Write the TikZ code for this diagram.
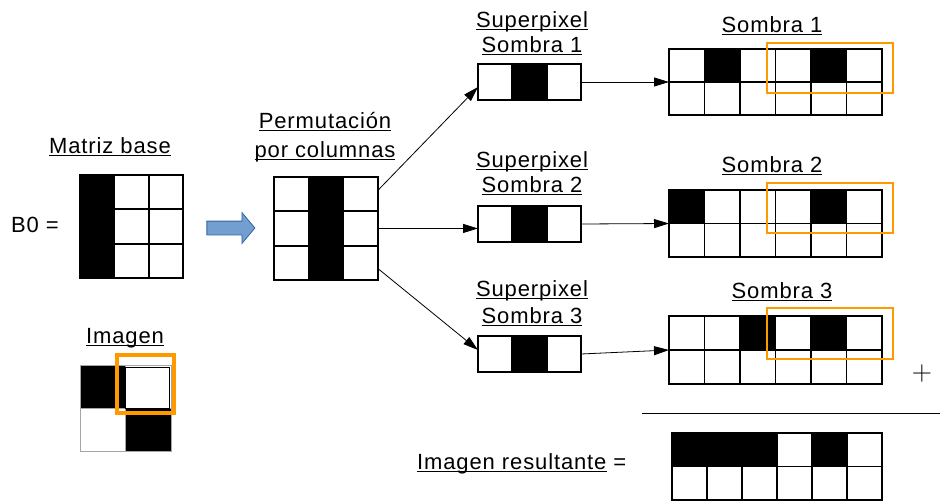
\documentclass[tikz,border=0pt]{standalone}
\usepackage{fontspec}
\setmainfont{Liberation Sans}[LetterSpace=4]
\usetikzlibrary{arrows.meta,shapes.arrows}

\definecolor{hlorange}{HTML}{FF9900}
\definecolor{arrowfill}{HTML}{729FCF}
\definecolor{arrowline}{HTML}{3465A4}
\colorlet{on}{black}
\colorlet{off}{white}

% underline at a fixed depth below the baseline
\newcommand\undl[1]{\leavevmode\setbox0\hbox{#1}\rlap{\rule[-2.5pt]{\wd0}{1pt}}\box0\relax}

% grid of pixels: name, north west corner, cell w, cell h, columns, rows, pattern
\newcommand\pixgrid[7]{%
  \node[frame, anchor=north west, minimum width=#5*#3, minimum height=#6*#4] (#1) at (#2) {};
  \begin{scope}[shift={(#1.north west)}]
    \foreach \row [count=\j] in {#7} {
      \foreach \c [count=\i] in \row {
        \path[pix, fill=\c] ({(\i-1)*#3},{(\j-1)*#4}) rectangle ++(#3,#4);
      }
    }
  \end{scope}
}

\tikzset{
  frame/.style={inner sep=0pt, outer sep=0pt},
  pix/.style={draw=black, line width=1.8pt},
  lbl/.style={inner sep=0pt, font=\fontsize{22}{26}\selectfont},
  conn/.style={line width=0.8pt, -{Triangle[length=15pt,width=9pt]}},
  hl/.style={draw=hlorange, line width=1.6pt},
  bluearrow/.style={single arrow, draw=arrowline, fill=arrowfill, line width=0.8pt,
    minimum height=48pt, single arrow head extend=8.5pt,
    single arrow tip angle=100, inner sep=0pt}
}

\begin{document}
\begin{tikzpicture}[x=1pt, y=-1pt]
  \useasboundingbox (0,0) rectangle (941,501);

  % base matrix and image
  \node[lbl, anchor=base] (lblbase) at (110,153) {\undl{Matriz base}};
  \node[lbl, anchor=base west] (bzero) at (11,232) {B0 =};
  \pixgrid{base}{80,175}{34.3}{34.3}{3}{3}{{on,off,off},{on,off,off},{on,off,off}}

  \node[lbl, anchor=base] (lblimg) at (125,343) {\undl{Imagen}};
  \begin{scope}[pix/.append style={draw=black!35, line width=1pt}]
    \pixgrid{img}{80,365}{45.5}{43}{2}{2}{{on,off},{off,on}}
  \end{scope}
  \draw[line width=1.6pt] (125.5,367.5) rectangle (169.5,408.5);
  \draw[hl, line width=4.5pt] (117,355) rectangle (174,413);

  % column permutation
  \node[bluearrow] (permarrow) at (228,228) {\rule{0pt}{13pt}};
  \node[lbl, anchor=base] (lblperm) at (325,128) {\undl{Permutación}};
  \node[lbl, anchor=base] (lblcols) at (325,157) {\undl{por columnas}};
  \pixgrid{perm}{274,177}{34.6}{34.3}{3}{3}{{off,on,off},{off,on,off},{off,on,off}}

  % superpixels
  \node[lbl, anchor=base] (lblsp1a) at (532,27) {\undl{Superpixel}};
  \node[lbl, anchor=base] (lblsp1b) at (532,52) {\undl{Sombra 1}};
  \pixgrid{sp1}{478,64}{34.3}{36}{3}{1}{{off,on,off}}

  \node[lbl, anchor=base] (lblsp2a) at (532,167) {\undl{Superpixel}};
  \node[lbl, anchor=base] (lblsp2b) at (532,192) {\undl{Sombra 2}};
  \pixgrid{sp2}{478,206}{34.3}{36}{3}{1}{{off,on,off}}

  \node[lbl, anchor=base] (lblsp3a) at (532,296) {\undl{Superpixel}};
  \node[lbl, anchor=base] (lblsp3b) at (532,323) {\undl{Sombra 3}};
  \pixgrid{sp3}{478,336}{34.3}{36}{3}{1}{{off,on,off}}

  % shadows
  \node[lbl, anchor=base] (lblsh1) at (772,32) {\undl{Sombra 1}};
  \pixgrid{sh1}{669,49}{35.5}{33}{6}{2}{{off,on,off,off,on,off},{off,off,off,off,off,off}}
  \draw[hl] (767,43) rectangle (893,93);

  \node[lbl, anchor=base] (lblsh2) at (772,172) {\undl{Sombra 2}};
  \pixgrid{sh2}{669,190}{35.5}{33.5}{6}{2}{{on,off,off,off,on,off},{off,off,off,off,off,off}}
  \draw[hl] (767,183) rectangle (893,233);

  \node[lbl, anchor=base] (lblsh3) at (782,298) {\undl{Sombra 3}};
  \pixgrid{sh3}{669,316}{35.5}{34}{6}{2}{{off,off,on,off,on,off},{off,off,off,off,off,off}}
  \draw[hl] (767,308) rectangle (893,359);

  % sum
  \node[font=\fontfamily{lmr}\fontsize{28}{32}\selectfont, inner sep=0pt] (plus) at (922,374) {+};
  \draw[line width=1pt] (642,413) -- (940,413);
  \node[lbl, anchor=base west] (lblres) at (417,469) {\undl{Imagen resultante} =};
  \pixgrid{res}{672,433}{35}{33.5}{6}{2}{{on,on,on,off,on,off},{off,off,off,off,off,off}}

  % connectors
  \draw[conn] ([yshift=38pt]perm.east) -- ([yshift=-5pt]sp1.west);
  \draw[conn] (perm.east) -- (perm.east -| sp2.west);
  \draw[conn] ([yshift=-40pt]perm.east) -- ([yshift=4pt]sp3.west);
  \draw[conn] (sp1.east) -- (sh1.west);
  \draw[conn] (sp2.east) -- (sh2.west);
  \draw[conn] (sp3.east) -- (sh3.west);
\end{tikzpicture}
\end{document}
